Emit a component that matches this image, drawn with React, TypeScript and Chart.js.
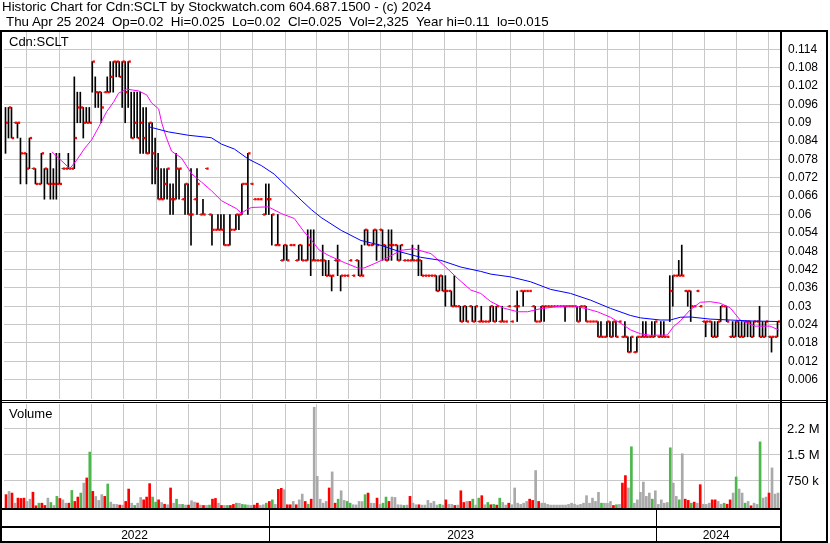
import React, { useEffect, useRef } from 'react';
import { Chart, registerables } from 'chart.js';

Chart.register(...registerables);

// ---------------- data (one bar = ~2 trading days) ----------------
const highs = [
  0.095, 0.095, 0.095, 0.09, 0.09, 0.085, 0.08, 0.08, 0.085, 0.075,
  0.075, 0.07, 0.08, 0.075, 0.075, 0.08, 0.075, 0.08, 0.08, 0.075,
  0.075, 0.08, 0.075, 0.105, 0.10, 0.10, 0.095, 0.095, 0.095, 0.11,
  0.105, 0.10, 0.10, 0.10, 0.105, 0.11, 0.11, 0.11, 0.11, 0.11,
  0.11, 0.11, 0.10, 0.10, 0.10, 0.10, 0.095, 0.095, 0.09, 0.09,
  0.085, 0.08, 0.075, 0.075, 0.075, 0.07, 0.07, 0.08, 0.075, 0.065,
  0.07, 0.07, 0.075, 0.065, 0.075, 0.06, 0.065, 0.075, 0.06, 0.06,
  0.055, 0.06, 0.06, 0.06, 0.05, 0.06, 0.055, 0.06, 0.06, 0.07,
  0.07, 0.08, 0.07, 0.065, 0.065, 0.065, 0.06, 0.07, 0.07, 0.06,
  0.05, 0.06, 0.045, 0.05, 0.05, 0.05, 0.05, 0.045, 0.05, 0.05,
  0.045, 0.055, 0.055, 0.055, 0.045, 0.045, 0.05, 0.045, 0.045, 0.04,
  0.045, 0.05, 0.04, 0.04, 0.04, 0.045, 0.04, 0.045, 0.045, 0.05,
  0.055, 0.055, 0.05, 0.055, 0.055, 0.055, 0.055, 0.05, 0.055, 0.055,
  0.05, 0.05, 0.05, 0.045, 0.045, 0.045, 0.05, 0.045, 0.05, 0.045,
  0.04, 0.04, 0.04, 0.04, 0.04, 0.04, 0.04, 0.04, 0.035, 0.035,
  0.04, 0.03, 0.03, 0.03, 0.03, 0.03, 0.03, 0.03, 0.025, 0.03,
  0.025, 0.025, 0.03, 0.03, 0.03, 0.025, 0.03, 0.025, 0.03, 0.025,
  0.03, 0.035, 0.035, 0.035, 0.035, 0.035, 0.03, 0.03, 0.025, 0.03,
  0.03, 0.03, 0.03, 0.03, 0.03, 0.03, 0.03, 0.03, 0.03, 0.03,
  0.03, 0.03, 0.03, 0.03, 0.03, 0.025, 0.025, 0.025, 0.025, 0.025,
  0.02, 0.025, 0.025, 0.025, 0.025, 0.025, 0.02, 0.025, 0.02, 0.02,
  0.015, 0.02, 0.02, 0.025, 0.025, 0.02, 0.025, 0.025, 0.02, 0.025,
  0.025, 0.02, 0.04, 0.04, 0.04, 0.045, 0.05, 0.035, 0.035, 0.035,
  0.03, 0.035, 0.03, 0.025, 0.025, 0.025, 0.025, 0.025, 0.025, 0.03,
  0.03, 0.03, 0.02, 0.025, 0.025, 0.025, 0.025, 0.025, 0.025, 0.025,
  0.025, 0.025, 0.03, 0.025, 0.025, 0.02, 0.02, 0.02, 0.025,
];

const lows = [
  0.08, 0.085, 0.085, 0.09, 0.085, 0.07, 0.08, 0.07, 0.075, 0.075,
  0.07, 0.07, 0.07, 0.065, 0.07, 0.065, 0.065, 0.065, 0.07, 0.075,
  0.075, 0.075, 0.075, 0.075, 0.09, 0.09, 0.085, 0.09, 0.09, 0.10,
  0.095, 0.095, 0.09, 0.10, 0.10, 0.10, 0.10, 0.105, 0.105, 0.095,
  0.09, 0.095, 0.085, 0.085, 0.085, 0.08, 0.08, 0.08, 0.08, 0.07,
  0.07, 0.065, 0.065, 0.065, 0.065, 0.06, 0.06, 0.065, 0.065, 0.065,
  0.06, 0.06, 0.05, 0.065, 0.06, 0.06, 0.06, 0.075, 0.06, 0.05,
  0.055, 0.055, 0.055, 0.05, 0.05, 0.05, 0.055, 0.055, 0.055, 0.06,
  0.07, 0.06, 0.07, 0.065, 0.065, 0.065, 0.06, 0.06, 0.06, 0.05,
  0.05, 0.05, 0.045, 0.045, 0.045, 0.05, 0.05, 0.045, 0.045, 0.045,
  0.045, 0.045, 0.04, 0.045, 0.045, 0.045, 0.04, 0.04, 0.04, 0.035,
  0.045, 0.04, 0.035, 0.04, 0.04, 0.045, 0.04, 0.045, 0.04, 0.04,
  0.05, 0.05, 0.05, 0.05, 0.045, 0.055, 0.045, 0.045, 0.045, 0.045,
  0.05, 0.045, 0.045, 0.045, 0.045, 0.045, 0.045, 0.045, 0.04, 0.04,
  0.04, 0.04, 0.04, 0.04, 0.035, 0.035, 0.035, 0.03, 0.035, 0.03,
  0.03, 0.03, 0.025, 0.025, 0.025, 0.03, 0.025, 0.025, 0.025, 0.025,
  0.025, 0.025, 0.025, 0.025, 0.025, 0.025, 0.025, 0.025, 0.03, 0.025,
  0.03, 0.025, 0.035, 0.03, 0.035, 0.035, 0.03, 0.025, 0.025, 0.025,
  0.025, 0.03, 0.03, 0.03, 0.03, 0.03, 0.03, 0.025, 0.03, 0.03,
  0.03, 0.025, 0.025, 0.03, 0.025, 0.025, 0.025, 0.025, 0.02, 0.02,
  0.02, 0.02, 0.02, 0.02, 0.02, 0.025, 0.02, 0.02, 0.015, 0.015,
  0.015, 0.015, 0.02, 0.02, 0.02, 0.02, 0.02, 0.02, 0.02, 0.02,
  0.02, 0.02, 0.025, 0.03, 0.04, 0.04, 0.04, 0.035, 0.03, 0.025,
  0.03, 0.035, 0.03, 0.025, 0.02, 0.025, 0.02, 0.02, 0.02, 0.025,
  0.03, 0.025, 0.02, 0.02, 0.02, 0.02, 0.02, 0.02, 0.02, 0.02,
  0.02, 0.025, 0.02, 0.02, 0.02, 0.02, 0.015, 0.02, 0.02,
];

const closes = [
  0.09, 0.095, 0.085, 0.09, 0.09, 0.08, 0.08, 0.075, 0.085, 0.075,
  0.07, 0.07, 0.08, 0.075, 0.07, 0.07, 0.07, 0.07, 0.07, 0.075,
  0.075, 0.075, 0.075, 0.085, 0.095, 0.095, 0.09, 0.09, 0.09, 0.11,
  0.10, 0.10, 0.095, 0.10, 0.10, 0.105, 0.11, 0.11, 0.105, 0.11,
  0.10, 0.11, 0.085, 0.09, 0.085, 0.09, 0.085, 0.08, 0.09, 0.08,
  0.075, 0.065, 0.065, 0.07, 0.075, 0.065, 0.065, 0.075, 0.075, 0.065,
  0.07, 0.06, 0.06, 0.065, 0.07, 0.06, 0.06, 0.075, 0.06, 0.055,
  0.055, 0.055, 0.055, 0.05, 0.05, 0.055, 0.055, 0.06, 0.06, 0.07,
  0.07, 0.08, 0.07, 0.065, 0.065, 0.065, 0.06, 0.065, 0.065, 0.06,
  0.05, 0.05, 0.045, 0.05, 0.045, 0.05, 0.05, 0.045, 0.05, 0.045,
  0.045, 0.05, 0.045, 0.045, 0.045, 0.045, 0.045, 0.04, 0.04, 0.04,
  0.045, 0.045, 0.04, 0.04, 0.04, 0.045, 0.04, 0.045, 0.04, 0.04,
  0.055, 0.05, 0.05, 0.055, 0.05, 0.055, 0.05, 0.045, 0.05, 0.05,
  0.05, 0.045, 0.05, 0.045, 0.045, 0.045, 0.045, 0.045, 0.045, 0.04,
  0.04, 0.04, 0.04, 0.04, 0.035, 0.04, 0.035, 0.035, 0.035, 0.03,
  0.03, 0.03, 0.025, 0.03, 0.025, 0.03, 0.025, 0.03, 0.025, 0.025,
  0.025, 0.025, 0.03, 0.025, 0.03, 0.025, 0.025, 0.025, 0.03, 0.025,
  0.03, 0.03, 0.035, 0.035, 0.035, 0.035, 0.03, 0.025, 0.025, 0.03,
  0.03, 0.03, 0.03, 0.03, 0.03, 0.03, 0.03, 0.03, 0.03, 0.03,
  0.03, 0.025, 0.03, 0.03, 0.025, 0.025, 0.025, 0.025, 0.02, 0.02,
  0.02, 0.025, 0.02, 0.025, 0.02, 0.025, 0.02, 0.02, 0.015, 0.02,
  0.015, 0.02, 0.02, 0.02, 0.02, 0.02, 0.02, 0.025, 0.02, 0.02,
  0.02, 0.02, 0.035, 0.04, 0.04, 0.04, 0.04, 0.035, 0.035, 0.03,
  0.03, 0.035, 0.03, 0.025, 0.025, 0.025, 0.02, 0.02, 0.025, 0.03,
  0.03, 0.025, 0.02, 0.02, 0.025, 0.02, 0.02, 0.025, 0.025, 0.02,
  0.025, 0.025, 0.02, 0.02, 0.025, 0.02, 0.02, 0.02, 0.025,
];

// volume in thousands of shares
const volumesK = [
  340, 430, 385, 95, 240, 230, 240, 145, 210, 410,
  20, 95, 95, 30, 240, 115, 30, 290, 230, 190,
  95, 95, 460, 145, 270, 385, 670, 817, 1558, 433,
  288, 173, 340, 290, 645, 125, 65, 60, 40, 40,
  145, 500, 95, 30, 95, 260, 190, 270, 655, 270,
  125, 190, 115, 65, 50, 530, 95, 210, 60, 60,
  40, 40, 165, 125, 100, 40, 30, 30, 40, 210,
  230, 95, 30, 30, 30, 30, 60, 95, 90, 60,
  50, 40, 30, 40, 95, 30, 50, 95, 145, 190,
  60, 490, 520, 480, 50, 50, 145, 50, 190, 355,
  145, 65, 210, 2840, 865, 210, 95, 145, 530, 990,
  95, 210, 450, 175, 145, 95, 50, 45, 145, 140,
  340, 385, 95, 90, 240, 60, 95, 270, 145, 270,
  260, 50, 45, 30, 40, 290, 95, 50, 50, 40,
  40, 175, 95, 145, 40, 65, 40, 190, 65, 60,
  30, 40, 450, 115, 145, 145, 210, 40, 240, 310,
  50, 115, 50, 60, 40, 240, 115, 40, 95, 50,
  530, 95, 60, 95, 145, 210, 175, 1030, 145, 95,
  95, 60, 40, 40, 40, 40, 40, 40, 60, 95,
  65, 40, 60, 95, 310, 95, 240, 145, 405, 95,
  95, 90, 145, 30, 50, 60, 670, 885, 530, 1710,
  95, 190, 405, 700, 290, 385, 210, 450, 60, 190,
  95, 115, 1680, 670, 290, 190, 1510, 210, 175, 95,
  125, 95, 625, 65, 60, 95, 190, 190, 145, 65,
  95, 65, 190, 385, 845, 500, 385, 95, 145, 20,
  95, 60, 1850, 240, 270, 385, 1105, 355, 385,
];

// r = down day, g = up day, n = unchanged
const volumeDirections = (
  'rnrnrrrnnr' + 'rgrrngngrn' + 'nrgrrgnrgr' + 'nnnrgnnnrn' + 'rrngnnrrrg' +
  'grnrnrngng' + 'nrnnrnrngr' + 'rnrngrrgng' + 'gnnrrnngrg' + 'nrrnrrnrnn' +
  'rgrnnnnnrn' + 'rgnnggnnnn' + 'grnnrnggrn' + 'nnngnrnnrn' + 'nnnnngnrnn' +
  'rnrrnrgngr' + 'ngrgrgnnrn' + 'nnnnnrrnrn' + 'nnnnnnnnnn' + 'nnnnnnnnng' +
  'nnnrgnrrng' + 'nnnnnngnnn' + 'nngnngnrrg' + 'rnrnnnrrnn' + 'grrngnngnr' +
  'nngnnrnnn'
).split('');

// moving averages: [bar position, price]
const shortAverage: [number, number][] = [
  [15.5, 0.0805], [18.8, 0.0775], [21.5, 0.075], [23.8, 0.0778], [26.5, 0.0817],
  [28.8, 0.0844], [31.2, 0.0887], [33.8, 0.0936], [36.2, 0.0969], [37.8, 0.0997],
  [40.5, 0.101], [42.5, 0.1007], [44.5, 0.1004], [47.2, 0.0991], [48.8, 0.0965],
  [51.2, 0.0945], [52.2, 0.09], [53.8, 0.085], [55.5, 0.0807], [58.8, 0.0785],
  [62.2, 0.0733], [65.5, 0.0706], [68.8, 0.0678], [72.2, 0.0645], [77.2, 0.0619],
  [78.8, 0.0604], [80.5, 0.0615], [82.2, 0.0623], [87.8, 0.0625], [92.2, 0.0603],
  [96.5, 0.0587], [99.8, 0.0543], [102.2, 0.0517], [104.8, 0.0484], [107.8, 0.0467],
  [113.2, 0.0443], [117.8, 0.0425], [119.8, 0.0425], [123.2, 0.0439], [127.8, 0.046],
  [132.2, 0.0483], [136.5, 0.0488], [142.2, 0.0472], [146.5, 0.0434], [151.2, 0.039],
  [155.5, 0.0353], [158.8, 0.0342], [162.2, 0.0315], [166.5, 0.0294], [171.2, 0.0282],
  [174.5, 0.0282], [178.8, 0.0292], [184.5, 0.0299], [189.5, 0.0302], [194.5, 0.0291],
  [197.8, 0.0282], [202.2, 0.0264], [206.5, 0.0239], [208.8, 0.0223], [212.2, 0.021],
  [215.5, 0.0205], [221.2, 0.0206], [223.2, 0.0233], [225.5, 0.0252], [228.8, 0.0288],
  [232.2, 0.0313], [235.5, 0.0315], [238.8, 0.031], [242.2, 0.0295], [245.5, 0.0255],
  [250.5, 0.0235], [255.5, 0.0235], [258.5, 0.0222],
];

const longAverage: [number, number][] = [
  [47.8, 0.0887], [54.5, 0.087], [61.2, 0.0859], [68.8, 0.0851], [72.2, 0.083],
  [76.5, 0.0814], [81.2, 0.0781], [85.5, 0.076], [89.8, 0.0732], [92.2, 0.0709],
  [95.5, 0.0678], [98.8, 0.0647], [102.2, 0.0616], [105.5, 0.059], [112.2, 0.0548],
  [118.8, 0.0515], [125.5, 0.0499], [132.2, 0.0477], [138.8, 0.046], [145.5, 0.045],
  [152.2, 0.0428], [158.8, 0.0414], [162.2, 0.0405], [168.8, 0.0396], [175.5, 0.038],
  [182.2, 0.0355], [188.8, 0.0342], [195.5, 0.032], [202.2, 0.0293], [208.8, 0.027],
  [212.2, 0.0262], [218.8, 0.0255], [222.2, 0.0255], [225.5, 0.0264], [228.8, 0.0265],
  [235.5, 0.0258], [242.2, 0.0255], [248.8, 0.0252], [258.5, 0.025],
];

const priceTicks = [
  0.006, 0.012, 0.018, 0.024, 0.03, 0.036, 0.042, 0.048, 0.054, 0.06,
  0.066, 0.072, 0.078, 0.084, 0.09, 0.096, 0.102, 0.108, 0.114,
];
const volumeTicksK = [750, 1500, 2250];
const volumeTickLabels = ['750 k', '1.5 M', '2.2 M'];

// month boundaries on the bar axis
const monthStarts = [
  1.33, 12.67, 23.33, 34, 45, 55.67, 66.33, 77.33, 88, 99, 109, 120,
  130.67, 141.67, 152, 163, 174.67, 184.67, 195.67, 206.67, 217.33, 228.33, 239, 249.67,
];
const yearStarts = [88, 217.33];
const yearLabels = ['2022', '2023', '2024'];

const headerLine1 = 'Historic Chart for Cdn:SCLT by Stockwatch.com 604.687.1500 - (c) 2024';
const headerLine2 =
  'Thu Apr 25 2024  Op=0.02  Hi=0.025  Lo=0.02  Cl=0.025  Vol=2,325  Year hi=0.11  lo=0.015';
const symbolLabel = 'Cdn:SCLT';
const volumeLabel = 'Volume';

// ---------------- styling / scale constants ----------------
const FONT = 'Arial, "Liberation Sans", sans-serif';
const GRID = '#c8c8c8';
const DIR_COLORS: Record<string, string> = { r: '#ff0000', g: '#4cb84c', n: '#a9a9a9' };
const X_MIN = -0.5;
const X_MAX = 258.8333;
const PRICE_MIN = -0.035967;
const PRICE_MAX = 0.119673;
const VOL_MIN = -43;
const VOL_MAX = 13583;

const framePlugin = {
  id: 'stockFrame',
  beforeDatasetsDraw(chart: any) {
    const { ctx, chartArea, scales } = chart;
    const vs = scales.vol;
    ctx.save();
    ctx.strokeStyle = GRID;
    ctx.lineWidth = 1;
    for (const t of volumeTicksK) {
      const y = Math.round(vs.getPixelForValue(t)) + 0.5;
      ctx.beginPath();
      ctx.moveTo(chartArea.left, y);
      ctx.lineTo(chartArea.right, y);
      ctx.stroke();
    }
    ctx.fillStyle = '#ffffff';
    ctx.fillRect(0, 399, 828, 5);
    ctx.restore();
  },
  afterDraw(chart: any) {
    const { ctx, chartArea, scales } = chart;
    const xs = scales.x;
    const vs = scales.vol;
    const right = chartArea.right;
    ctx.save();
    ctx.fillStyle = '#000000';
    ctx.fillRect(0, 30, 828, 2);
    ctx.fillRect(0, 30, 2, 513);
    ctx.fillRect(right, 30, 2, 513);
    ctx.fillRect(826, 30, 2, 513);
    ctx.fillRect(0, 400, 828, 1);
    ctx.fillRect(0, 402, 828, 1);
    ctx.fillRect(0, chartArea.bottom, right + 2, 2);
    ctx.fillRect(0, 526, right + 2, 2);
    ctx.fillRect(0, 541, 828, 2);
    const bounds = [chartArea.left, ...yearStarts.map((v) => Math.round(xs.getPixelForValue(v))), right];
    for (let i = 1; i < bounds.length - 1; i++) {
      ctx.fillRect(bounds[i], chartArea.bottom + 2, 1, 541 - chartArea.bottom - 2);
    }
    ctx.font = `12px ${FONT}`;
    ctx.textAlign = 'center';
    ctx.textBaseline = 'alphabetic';
    yearLabels.forEach((lab, i) => {
      ctx.fillText(lab, (bounds[i] + bounds[i + 1]) / 2 - 2, 539);
    });
    ctx.font = `13px ${FONT}`;
    ctx.textAlign = 'left';
    ctx.fillText(symbolLabel, 9, 46);
    ctx.fillText(volumeLabel, 9, 418);
    ctx.textBaseline = 'middle';
    volumeTicksK.forEach((t, i) => {
      ctx.fillText(volumeTickLabels[i], right + 7, Math.round(vs.getPixelForValue(t)) + 1);
    });
    ctx.restore();
  },
};

export default function App() {
  const canvasRef = useRef<HTMLCanvasElement | null>(null);

  useEffect(() => {
    const canvas = canvasRef.current;
    if (!canvas) return;

    const priceBars = highs.map((h, i) => ({ x: i, y: [lows[i], h] }));
    const closeMarks = closes.map((c, i) => ({ x: i + 0.5, y: c }));
    const volBars = volumesK.map((v, i) => ({ x: i + 0.17, y: v }));
    const volColors = volumeDirections.map((d) => DIR_COLORS[d]);

    const chart = new Chart(canvas, {
      type: 'bar',
      data: {
        datasets: [
          {
            type: 'line',
            label: 'long average',
            data: longAverage.map(([x, y]) => ({ x, y })),
            borderColor: '#0000ff',
            borderWidth: 1,
            pointRadius: 0,
            tension: 0,
            yAxisID: 'price',
            order: 0,
          } as any,
          {
            type: 'line',
            label: 'short average',
            data: shortAverage.map(([x, y]) => ({ x, y })),
            borderColor: '#ff00ff',
            borderWidth: 1,
            pointRadius: 0,
            tension: 0,
            yAxisID: 'price',
            order: 1,
          } as any,
          {
            type: 'line',
            label: 'close',
            data: closeMarks,
            showLine: false,
            pointStyle: 'rect',
            pointRadius: 1.65,
            pointBorderWidth: 0,
            pointBackgroundColor: '#ff0000',
            borderColor: '#ff0000',
            yAxisID: 'price',
            order: 2,
          } as any,
          {
            type: 'bar',
            label: 'range',
            data: priceBars,
            backgroundColor: '#000000',
            barThickness: 1,
            grouped: false,
            borderWidth: 0,
            yAxisID: 'price',
            order: 3,
          } as any,
          {
            type: 'bar',
            label: 'volume',
            data: volBars,
            backgroundColor: volColors,
            barThickness: 2,
            grouped: false,
            borderWidth: 0,
            base: VOL_MIN,
            yAxisID: 'vol',
            order: 4,
          } as any,
        ],
      },
      options: {
        responsive: false,
        animation: false,
        events: [],
        devicePixelRatio: 1,
        layout: { padding: { left: 2, top: 32, right: 0, bottom: 35 } },
        plugins: {
          legend: { display: false },
          tooltip: { enabled: false },
          title: { display: false },
        },
        scales: {
          x: {
            type: 'linear',
            min: X_MIN,
            max: X_MAX,
            offset: false,
            grid: { color: GRID, drawTicks: false, lineWidth: 1 },
            border: { display: false },
            ticks: { display: false },
            afterBuildTicks: (scale: any) => {
              scale.ticks = monthStarts.map((v) => ({ value: v }));
            },
            afterFit: (scale: any) => {
              scale.height = 0;
            },
          },
          price: {
            type: 'linear',
            position: 'right',
            min: PRICE_MIN,
            max: PRICE_MAX,
            grid: { color: GRID, drawTicks: false, lineWidth: 1 },
            border: { display: false },
            ticks: {
              color: '#000000',
              padding: 8,
              font: { family: FONT, size: 12 },
              callback: (v: any) => String(Number(Number(v).toFixed(3))),
            },
            afterBuildTicks: (scale: any) => {
              scale.ticks = priceTicks.map((v) => ({ value: v }));
            },
            afterFit: (scale: any) => {
              scale.width = 50;
            },
          },
          vol: {
            type: 'linear',
            display: false,
            min: VOL_MIN,
            max: VOL_MAX,
          },
        },
      } as any,
      plugins: [framePlugin],
    });

    return () => chart.destroy();
  }, []);

  const textStyle: React.CSSProperties = {
    position: 'absolute',
    fontFamily: FONT,
    fontSize: '13.33px',
    lineHeight: '15px',
    whiteSpace: 'pre',
    color: '#000',
    margin: 0,
  };

  return (
    <div style={{ position: 'absolute', left: 0, top: 0, width: 830, height: 543, background: '#fff', overflow: 'hidden' }}>
      <canvas ref={canvasRef} width={830} height={543} style={{ position: 'absolute', left: 0, top: 0, width: 830, height: 543 }} />
      <div style={{ ...textStyle, left: 2, top: -1 }}>{headerLine1}</div>
      <div style={{ ...textStyle, left: 6, top: 14 }}>{headerLine2}</div>
    </div>
  );
}
